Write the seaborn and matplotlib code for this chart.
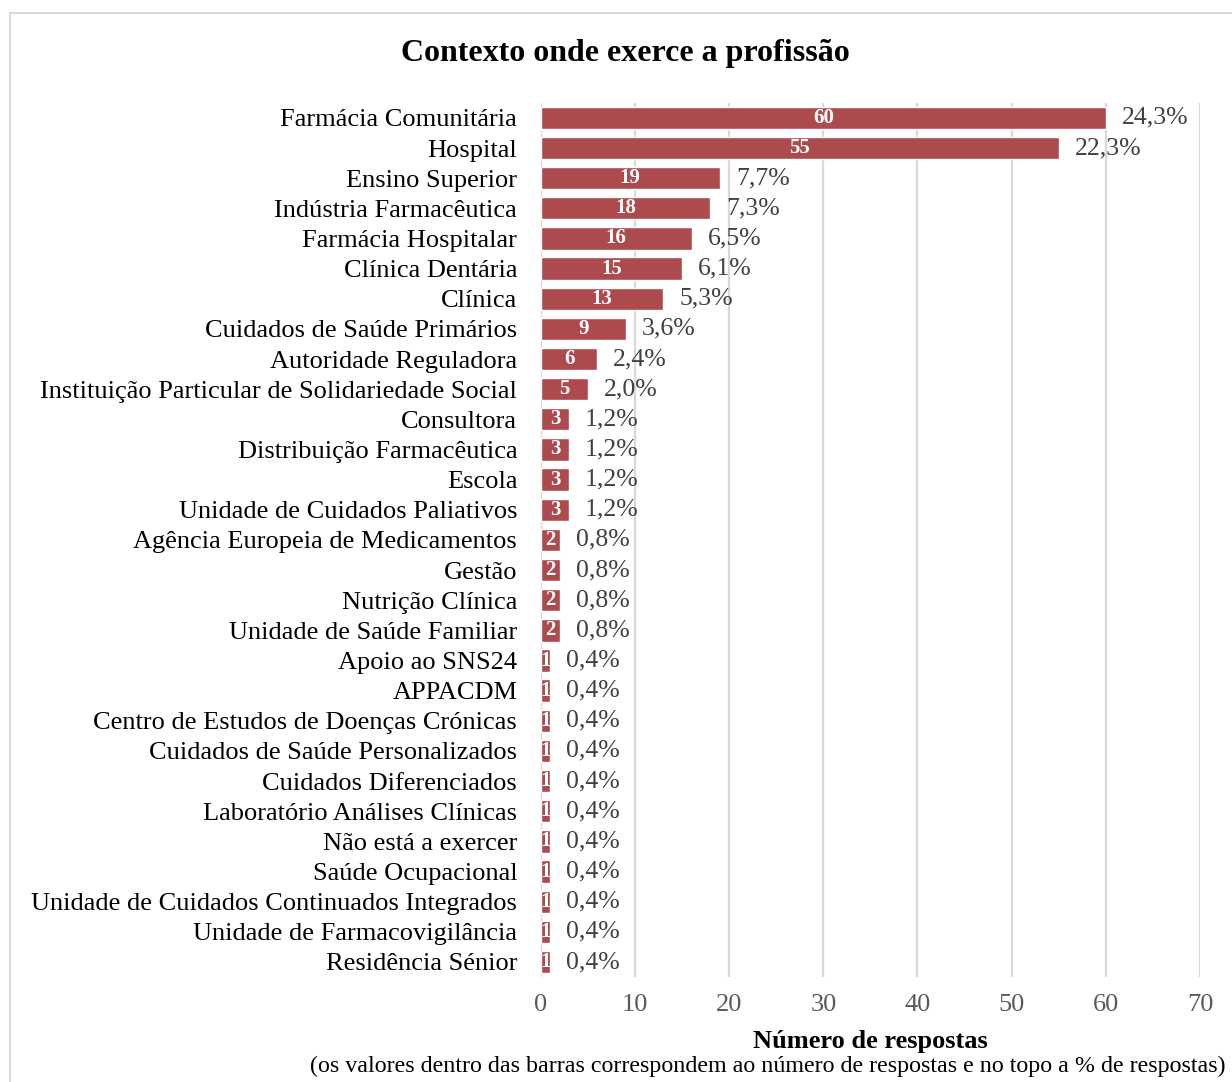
import matplotlib
matplotlib.use("Agg")
import matplotlib.pyplot as plt
import seaborn as sns
import pandas as pd
from matplotlib.patches import Rectangle

categorias = [
    "Farmácia Comunitária", "Hospital", "Ensino Superior", "Indústria Farmacêutica",
    "Farmácia Hospitalar", "Clínica Dentária", "Clínica", "Cuidados de Saúde Primários",
    "Autoridade Reguladora", "Instituição Particular de Solidariedade Social",
    "Consultora", "Distribuição Farmacêutica", "Escola", "Unidade de Cuidados Paliativos",
    "Agência Europeia de Medicamentos", "Gestão", "Nutrição Clínica",
    "Unidade de Saúde Familiar", "Apoio ao SNS24", "APPACDM",
    "Centro de Estudos de Doenças Crónicas", "Cuidados de Saúde Personalizados",
    "Cuidados Diferenciados", "Laboratório Análises Clínicas", "Não está a exercer",
    "Saúde Ocupacional", "Unidade de Cuidados Continuados Integrados",
    "Unidade de Farmacovigilância", "Residência Sénior",
]
respostas = [60, 55, 19, 18, 16, 15, 13, 9, 6, 5, 3, 3, 3, 3, 2, 2, 2, 2,
             1, 1, 1, 1, 1, 1, 1, 1, 1, 1, 1]
percentagens = ["24,3%", "22,3%", "7,7%", "7,3%", "6,5%", "6,1%", "5,3%", "3,6%",
                "2,4%", "2,0%", "1,2%", "1,2%", "1,2%", "1,2%", "0,8%", "0,8%",
                "0,8%", "0,8%", "0,4%", "0,4%", "0,4%", "0,4%", "0,4%", "0,4%",
                "0,4%", "0,4%", "0,4%", "0,4%", "0,4%"]
eixo_ticks = [0, 10, 20, 30, 40, 50, 60, 70]

df = pd.DataFrame({"categoria": categorias, "respostas": respostas})

sns.set_theme(style="white")
plt.rcParams["font.family"] = ["Liberation Serif", "DejaVu Serif"]

COR = "#AD4A4D"
fig = plt.figure(figsize=(12.32, 10.82), dpi=100)
ax = fig.add_axes([0.439, 0.097, 0.535, 0.808])

sns.barplot(data=df, x="respostas", y="categoria", orient="h", color=COR,
            saturation=1, width=0.74, ax=ax, zorder=3)

ax.set_xlim(0, 70)
ax.set_xticks(eixo_ticks)
ax.grid(axis="x", color="#D9D9D9", linewidth=1.6, zorder=0)
for s in ax.spines.values():
    s.set_visible(False)
ax.tick_params(axis="x", length=0, labelsize=19, labelcolor="#595959", pad=12)
ax.tick_params(axis="y", length=0, labelsize=19, labelcolor="#000000", pad=17)
ax.set_ylabel("")
ax.set_xlabel("Número de respostas", fontsize=19, fontweight="bold",
              color="#000000", labelpad=10)

for i, (v, p) in enumerate(zip(respostas, percentagens)):
    ax.text(v / 2, i, str(v), color="white", fontsize=15, fontweight="bold",
            ha="center", va="center", zorder=4)
    ax.text(v + 1.7, i, p, color="#404040", fontsize=18.5, ha="left",
            va="center", zorder=4)

fig.text(0.508, 0.951, "Contexto onde exerce a profissão", fontsize=23,
         fontweight="bold", color="#000000", ha="center", va="center")
fig.text(0.623, 0.014, "(os valores dentro das barras correspondem ao número de "
         "respostas e no topo a % de respostas)", fontsize=17.3, color="#000000",
         ha="center", va="center")

fig.patches.append(Rectangle((10 / 1232, -0.1), 1.2, 1 - 13 / 1082 + 0.1,
                             transform=fig.transFigure, fill=False,
                             edgecolor="#D9D9D9", linewidth=1.5))

fig.savefig("out.png", dpi=100, facecolor="white")
